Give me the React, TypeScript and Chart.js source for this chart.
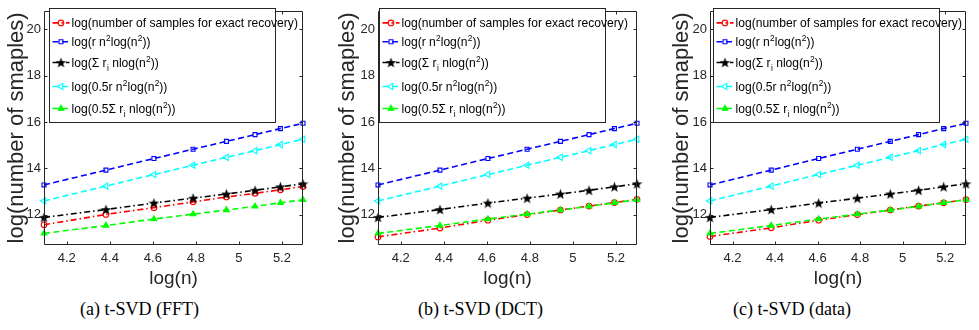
import React, { useEffect, useRef } from 'react';
import { Chart, registerables } from 'chart.js';
import { drawPoint } from 'chart.js/helpers';

Chart.register(...registerables);

// ---------------- data ----------------
const logN = [4.094, 4.382, 4.605, 4.787, 4.942, 5.075, 5.193, 5.298];
const recFFT = [11.57, 12.02, 12.31, 12.56, 12.77, 12.93, 13.08, 13.22];
const recDCT = [11.05, 11.43, 11.77, 12.01, 12.21, 12.38, 12.53, 12.67];
const recData = [11.07, 11.44, 11.77, 12.01, 12.21, 12.38, 12.52, 12.66];
const boundRn2 = [13.29, 13.93, 14.43, 14.83, 15.17, 15.46, 15.72, 15.95];
const boundSumR = [11.89, 12.23, 12.51, 12.72, 12.9, 13.06, 13.21, 13.34];
const halfRn2 = [12.6, 13.24, 13.74, 14.14, 14.48, 14.77, 15.03, 15.26];
const halfSumR = [11.2, 11.54, 11.82, 12.03, 12.21, 12.37, 12.52, 12.65];

const xTicks = [4.2, 4.4, 4.6, 4.8, 5.0, 5.2];
const yTicks = [12, 14, 16, 18, 20];
const yRange = [10.7, 20.8];

const seriesLabels = [
  'log(number of samples for exact recovery)',
  'log(r n\u00B2log(n\u00B2))',
  'log(\u03A3 r\u1D62 nlog(n\u00B2))',
  'log(0.5r n\u00B2log(n\u00B2))',
  'log(0.5\u03A3 r\u1D62 nlog(n\u00B2))',
];
const captions = ['(a) t-SVD (FFT)', '(b) t-SVD (DCT)', '(c) t-SVD (data)'];
const xTitle = 'log(n)';
const yTitle = 'log(number of smaples)';

// ---------------- layout ----------------
const CANVAS_H = 290;
const PLOT_TOP = 7;
const PLOT_BOTTOM = 245;
const AXIS_COLOR = '#262626';
const SANS = "'Liberation Sans', Arial, Helvetica, sans-serif";
const NARROW = "'Liberation Sans Narrow', 'Liberation Sans', Arial, sans-serif";

const panels = [
  { rec: recFFT, caption: captions[0], left: 0, width: 320, axisW: 44, padRight: 17, legendDx: 5, capLeft: 80 },
  { rec: recDCT, caption: captions[1], left: 331, width: 325, axisW: 47, padRight: 19, legendDx: 1, capLeft: 418 },
  { rec: recData, caption: captions[2], left: 665, width: 314, axisW: 45, padRight: 13, legendDx: 3, capLeft: 733 },
];

function makeStar(size: number, color: string) {
  const c = document.createElement('canvas');
  c.width = size;
  c.height = size;
  const g = c.getContext('2d')!;
  const r = size / 2;
  const ri = r * 0.42;
  g.beginPath();
  for (let k = 0; k < 10; k++) {
    const a = -Math.PI / 2 + (k * Math.PI) / 5;
    const rr = k % 2 ? ri : r;
    g.lineTo(r + rr * Math.cos(a), r + 0.5 + rr * Math.sin(a));
  }
  g.closePath();
  g.fillStyle = color;
  g.fill();
  return c;
}

// rich text: ² -> superscript 2, ᵢ -> subscript i
function drawRich(ctx: CanvasRenderingContext2D, text: string, x: number, baseline: number) {
  ctx.save();
  ctx.translate(x, baseline);
  ctx.scale(0.93, 1);
  let cx = 0;
  const base = `13px ${NARROW}`;
  const small = `9px ${NARROW}`;
  let buf = '';
  const flush = () => {
    if (!buf) return;
    ctx.font = base;
    ctx.fillText(buf, cx, 0);
    cx += ctx.measureText(buf).width;
    buf = '';
  };
  for (const ch of text) {
    if (ch === '\u00B2') {
      flush();
      ctx.font = small;
      ctx.fillText('2', cx + 0.3, -5.5);
      cx += ctx.measureText('2').width + 0.3;
    } else if (ch === '\u1D62') {
      flush();
      ctx.font = small;
      ctx.fillText('i', cx + 0.5, 3.5);
      cx += ctx.measureText('i').width + 0.5;
    } else {
      buf += ch;
    }
  }
  flush();
  ctx.restore();
}

const legendRows = [14.4, 33.2, 54, 78, 100];
const LEGEND_TOP = 8;
const LEGEND_W = 226;
const LEGEND_H = 114;

const framePlugin = {
  id: 'matlabFrame',
  afterDraw(chart: any, _args: any, opts: any) {
    const { ctx, chartArea: a, scales } = chart;
    const xs = scales.x;
    const ys = scales.y;
    ctx.save();
    ctx.strokeStyle = AXIS_COLOR;
    ctx.lineWidth = 1;
    const L = Math.round(a.left) + 0.5;
    const R = Math.round(a.right) - 0.5;
    const T = Math.round(a.top) + 0.5;
    const B = Math.round(a.bottom) - 0.5;
    ctx.beginPath();
    ctx.rect(L, T, R - L, B - T);
    const tl = 3;
    xTicks.forEach((v) => {
      const px = Math.round(xs.getPixelForValue(v)) + 0.5;
      ctx.moveTo(px, B);
      ctx.lineTo(px, B - tl);
      ctx.moveTo(px, T);
      ctx.lineTo(px, T + tl);
    });
    yTicks.forEach((v) => {
      const py = Math.round(ys.getPixelForValue(v)) + 0.5;
      ctx.moveTo(L, py);
      ctx.lineTo(L + tl, py);
      ctx.moveTo(R, py);
      ctx.lineTo(R - tl, py);
    });
    ctx.stroke();

    // legend box
    const lx = Math.round(a.left + opts.dx) + 0.5;
    const ly = LEGEND_TOP + 0.5;
    ctx.fillStyle = '#ffffff';
    ctx.fillRect(lx, ly, LEGEND_W, LEGEND_H);
    ctx.strokeStyle = AXIS_COLOR;
    ctx.lineWidth = 1;
    ctx.strokeRect(lx, ly, LEGEND_W, LEGEND_H);
    chart.data.datasets.forEach((ds: any, i: number) => {
      const cy = ly + legendRows[i];
      ctx.save();
      ctx.strokeStyle = ds.borderColor;
      ctx.lineWidth = ds.borderWidth;
      ctx.setLineDash(ds.borderDash);
      ctx.beginPath();
      ctx.moveTo(lx + 3, cy);
      ctx.lineTo(lx + 20, cy);
      ctx.stroke();
      ctx.setLineDash([]);
      ctx.strokeStyle = ds.pointBorderColor;
      ctx.fillStyle = ds.pointBackgroundColor;
      ctx.lineWidth = ds.pointBorderWidth;
      drawPoint(ctx, { pointStyle: ds.pointStyle, rotation: ds.pointRotation || 0, radius: ds.pointRadius, borderWidth: ds.pointBorderWidth }, lx + 11.5, cy);
      ctx.restore();
      ctx.fillStyle = '#000000';
      ctx.textBaseline = 'alphabetic';
      ctx.textAlign = 'left';
      drawRich(ctx, ds.label, lx + 22, cy + 4.5);
    });
    ctx.restore();
  },
};

function Panel({ p }: { p: (typeof panels)[number] }) {
  const ref = useRef<HTMLCanvasElement | null>(null);
  useEffect(() => {
    const canvas = ref.current!;
    const star = makeStar(11, '#000000');
    const pts = (ys: number[]) => logN.map((x, i) => ({ x, y: ys[i] }));
    const dashed = [6, 3.5];
    const dashDot = [6, 3, 1.5, 3];
    const common = { borderWidth: 1.6, fill: false, tension: 0, clip: false as any, pointBorderWidth: 1.1 };
    const chart = new Chart(canvas, {
      type: 'line',
      data: {
        datasets: [
          { ...common, label: seriesLabels[0], data: pts(p.rec), borderColor: '#ff0000', borderDash: dashDot, pointStyle: 'circle', pointRadius: 2.8, pointBorderColor: '#ff0000', pointBackgroundColor: 'rgba(255,255,255,0)', order: 5 },
          { ...common, label: seriesLabels[1], data: pts(boundRn2), borderColor: '#0000ff', borderDash: dashed, pointStyle: 'rect', pointRadius: 2.8, pointBorderColor: '#0000ff', pointBackgroundColor: 'rgba(255,255,255,0)', order: 4 },
          { ...common, label: seriesLabels[2], data: pts(boundSumR), borderColor: '#000000', borderDash: dashDot, pointStyle: star as any, pointRadius: 4.5, pointBorderColor: '#000000', pointBackgroundColor: '#000000', order: 3 },
          { ...common, label: seriesLabels[3], data: pts(halfRn2), borderColor: '#00ffff', borderDash: dashed, pointStyle: 'triangle', pointRotation: -90, pointRadius: 3.6, pointBorderColor: '#00ffff', pointBackgroundColor: 'rgba(255,255,255,0)', order: 2 },
          { ...common, label: seriesLabels[4], data: pts(halfSumR), borderColor: '#00ff00', borderDash: dashed, pointStyle: 'triangle', pointRadius: 3.3, pointBorderColor: '#00ff00', pointBackgroundColor: '#00ff00', order: 1 },
        ] as any,
      },
      options: {
        responsive: false,
        animation: false,
        devicePixelRatio: 1,
        layout: { padding: { left: 0, right: p.padRight, top: PLOT_TOP, bottom: 0 } },
        plugins: {
          legend: { display: false },
          tooltip: { enabled: false },
          matlabFrame: { dx: p.legendDx },
        } as any,
        scales: {
          x: {
            type: 'linear',
            min: logN[0],
            max: logN[logN.length - 1],
            afterBuildTicks: (s: any) => { s.ticks = xTicks.map((v) => ({ value: v })); },
            afterFit: (s: any) => { s.height = CANVAS_H - PLOT_BOTTOM; },
            grid: { display: false, drawTicks: false },
            border: { display: false },
            ticks: {
              color: AXIS_COLOR,
              padding: 6,
              maxRotation: 0,
              autoSkip: false,
              font: { family: NARROW, size: 13 },
              callback: (v: any) => String(Math.round(Number(v) * 10) / 10),
            },
            title: { display: true, text: xTitle, color: AXIS_COLOR, font: { family: NARROW, size: 19 }, padding: { top: 0, bottom: 0 } },
          },
          y: {
            type: 'linear',
            min: yRange[0],
            max: yRange[1],
            afterBuildTicks: (s: any) => { s.ticks = yTicks.map((v) => ({ value: v })); },
            afterFit: (s: any) => { s.width = p.axisW; },
            grid: { display: false, drawTicks: false },
            border: { display: false },
            ticks: { color: AXIS_COLOR, padding: 3, autoSkip: false, font: { family: NARROW, size: 13 } },
            title: { display: true, text: yTitle, color: AXIS_COLOR, font: { family: SANS, size: 22 }, padding: { top: 4, bottom: 0 } },
          },
        },
      },
      plugins: [framePlugin as any],
    });
    return () => chart.destroy();
  }, [p]);
  return (
    <>
      <canvas
        ref={ref}
        width={p.width}
        height={CANVAS_H}
        style={{ position: 'absolute', left: p.left, top: 0, width: p.width, height: CANVAS_H }}
      />
      <div
        style={{
          position: 'absolute',
          left: p.capLeft,
          top: 298,
          fontFamily: "'Liberation Serif', 'Times New Roman', serif",
          fontSize: 18,
          lineHeight: '22px',
          color: '#000',
          whiteSpace: 'nowrap',
        }}
      >
        {p.caption}
      </div>
    </>
  );
}

export default function App() {
  return (
    <div style={{ position: 'fixed', left: 0, top: 0, width: 979, height: 330, background: '#fff', overflow: 'hidden' }}>
      {panels.map((p, i) => (
        <Panel key={i} p={p} />
      ))}
    </div>
  );
}
